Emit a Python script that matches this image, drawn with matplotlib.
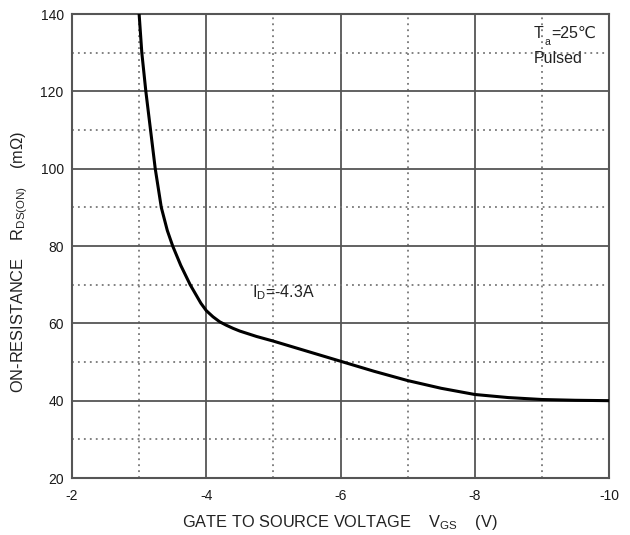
import numpy as np
import matplotlib
matplotlib.use('Agg')
import matplotlib.pyplot as plt
from matplotlib.ticker import MultipleLocator

plt.rcParams['font.family'] = ['Liberation Sans', 'DejaVu Sans']
plt.rcParams['mathtext.fontset'] = 'custom'
plt.rcParams['mathtext.rm'] = 'Liberation Sans'
plt.rcParams['mathtext.it'] = 'Liberation Sans'
plt.rcParams['axes.unicode_minus'] = False

# gate-source voltage (V) and on-resistance (mOhm)
vgs = [-3.0, -3.04, -3.10, -3.17, -3.24, -3.33, -3.42, -3.50, -3.62, -3.76,
       -3.85, -3.92, -4.0, -4.1, -4.2, -4.3, -4.4, -4.5, -4.75, -5.0,
       -5.5, -6.0, -6.5, -7.0, -7.5, -8.0, -8.5, -9.0, -9.5, -10.0]
rds_on = [140, 130, 120, 110, 100, 90, 84, 80, 75, 70,
          67.3, 65.2, 63.3, 61.7, 60.4, 59.5, 58.7, 58.0, 56.6, 55.4,
          52.8, 50.2, 47.6, 45.2, 43.2, 41.6, 40.8, 40.3, 40.1, 40.0]

x_ticks = [-2, -4, -6, -8, -10]
y_ticks = [20, 40, 60, 80, 100, 120, 140]

fig = plt.figure(figsize=(6.30, 5.35), dpi=100)
ax = fig.add_axes([72 / 630, 57 / 535, 537 / 630, 464 / 535])

ax.plot(vgs, rds_on, color='black', lw=2.2, zorder=3)

ax.set_xlim(-2, -10)
ax.set_ylim(20, 140)
ax.set_xticks(x_ticks)
ax.set_yticks(y_ticks)
ax.xaxis.set_minor_locator(MultipleLocator(1))
ax.yaxis.set_minor_locator(MultipleLocator(10))
ax.grid(which='major', color='#555555', lw=1.3, ls='-')
ax.grid(which='minor', color='#777777', lw=1.3, ls=(0, (1, 2.3)))
ax.tick_params(which='both', length=0, labelsize=10, colors='#1a1a1a')
ax.tick_params(axis='x', pad=8)
ax.tick_params(axis='y', pad=6)
for s in ax.spines.values():
    s.set_color('#555555')
    s.set_linewidth(1.5)

# T_a = 25 C, built from plain texts so the degree-celsius sign can fall back to DejaVu
txt = dict(color='#222222', family=['Liberation Sans', 'DejaVu Sans'])
t = ax.text(-8.88, 133.8, 'T', fontsize=11.5, ha='left', va='baseline', **txt)
ax.annotate('a', xy=(1, 0), xycoords=t, xytext=(0.6, -2.8), textcoords='offset points',
            fontsize=7.5, ha='left', va='baseline', **txt)
ax.annotate('=25℃', xy=(1, 0), xycoords=t, xytext=(5.2, 0), textcoords='offset points',
            fontsize=11.5, ha='left', va='bottom', **txt)
ax.text(-8.88, 127.3, 'Pulsed', fontsize=11.5, ha='left', va='baseline', **txt)

ax.text(-4.68, 68, r'I$\mathregular{_D}$=-4.3A', fontsize=11.5, ha='left', va='center',
        color='#222222')

fig.text(340 / 630, 1 - 522 / 535,
         r'GATE TO SOURCE VOLTAGE    V$\mathregular{_{GS}}$    (V)',
         fontsize=11.8, ha='center', va='center', color='#222222')
fig.text(20 / 630, 1 - 262 / 535,
         r'ON-RESISTANCE    R$\mathregular{_{DS(ON)}}$    (mΩ)',
         fontsize=11.8, ha='center', va='center', rotation=90, color='#222222')

fig.savefig('out.png', dpi=100)
